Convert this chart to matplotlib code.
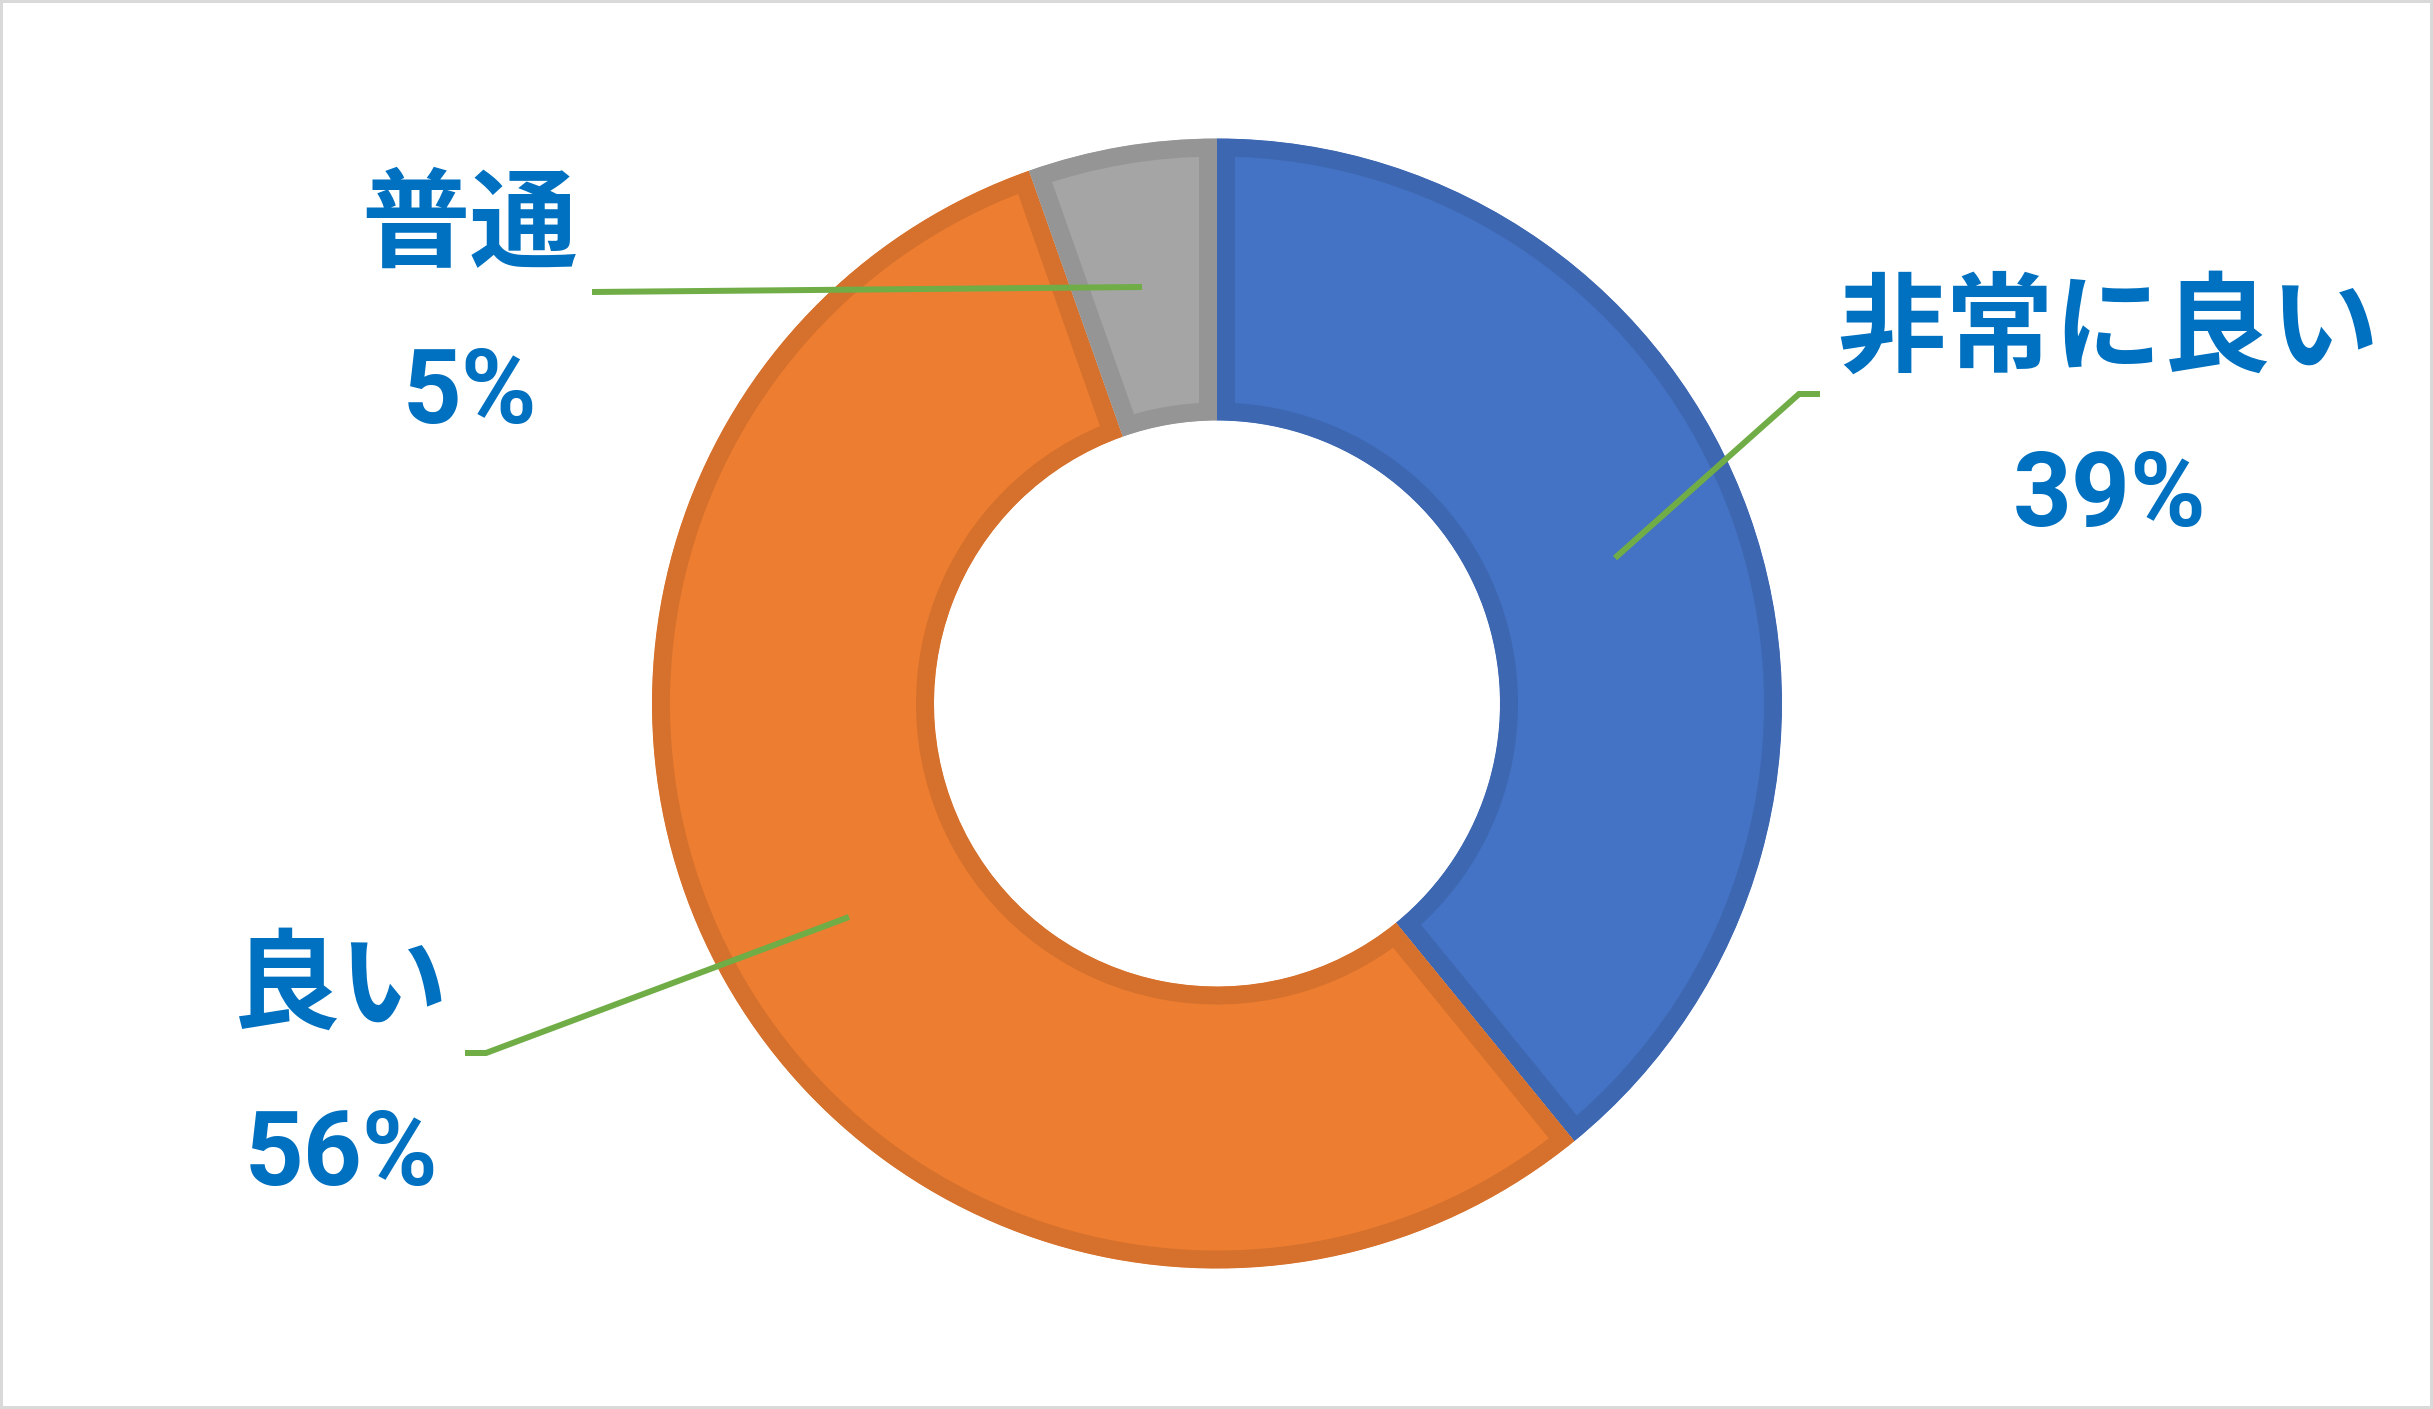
import matplotlib
matplotlib.use("Agg")
import matplotlib.pyplot as plt
from matplotlib.patches import Rectangle

# ---- data ----
categories = ["非常に良い", "良い", "普通"]
values = [39.1, 55.5, 5.4]
pct_labels = ["39%", "56%", "5%"]

fill_colors = ["#4472C4", "#ED7D31", "#A5A5A5"]
edge_colors = ["#3D67B0", "#D5712C", "#959595"]

W, H = 2433, 1409
DPI = 100
plt.rcParams['font.family'] = ['Noto Sans CJK JP', 'DejaVu Sans']

fig = plt.figure(figsize=(W / DPI, H / DPI), dpi=DPI)
ax = fig.add_axes([0, 0, 1, 1])

def Y(y):
    return H - y

cx, cy = 1217, 703.5
R, r = 565, 283
wedges, _ = ax.pie(values, colors=fill_colors, startangle=90, counterclock=False,
                   radius=R, center=(cx, Y(cy)),
                   wedgeprops=dict(width=R - r, linewidth=36 * 72 / DPI))
for w, ec in zip(wedges, edge_colors):
    w.set_edgecolor(ec)
    w.set_clip_on(True)
    w.set_clip_path(w)

ax.set_xlim(0, W)
ax.set_ylim(0, H)
ax.set_aspect('auto')
ax.axis('off')

green = "#70AD47"
lw = 6 * 72 / DPI
# leader lines (pixel coords, y down)
leaders = [
    [(1615, 558), (1799, 394), (1820, 394)],
    [(849, 917), (486, 1053), (465, 1053)],
    [(1142, 287), (592, 292)],
]
for pts in leaders:
    ax.plot([p[0] for p in pts], [Y(p[1]) for p in pts], color=green, lw=lw,
            solid_capstyle='butt', solid_joinstyle='miter', zorder=5)

label_color = "#0070C0"
name_pos = [(2108, 331), (340, 989), (470, 228)]
pct_base = [(2110, 526), (341, 1185), (470, 423)]
for name, pct, npos, ppos in zip(categories, pct_labels, name_pos, pct_base):
    ax.text(npos[0], Y(npos[1]), name, ha='center', va='center', fontsize=78,
            fontweight='bold', color=label_color, zorder=6)
    ax.text(ppos[0], Y(ppos[1]), pct, ha='center', va='baseline', fontsize=74,
            fontweight='bold', color=label_color, zorder=6,
            family=['Roboto', 'DejaVu Sans'])

# outer frame
fig.patches.append(Rectangle((0, 0), 1, 1, transform=fig.transFigure,
                             fill=False, edgecolor="#D9D9D9", linewidth=6 * 72 / DPI))

fig.savefig("out.png", dpi=DPI, facecolor="white")
